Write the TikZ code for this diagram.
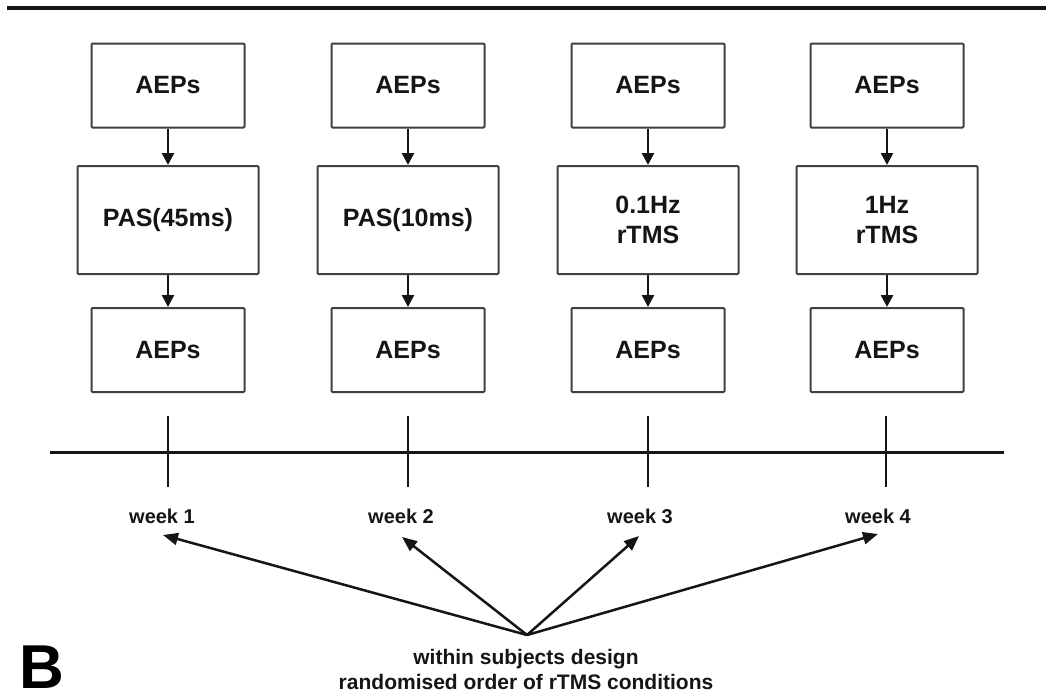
\documentclass[tikz,border=0pt]{standalone}
\usepackage{fontspec}
\setmainfont{Liberation Sans}
\usetikzlibrary{arrows.meta}
\definecolor{boxline}{HTML}{404040}
\definecolor{ink}{HTML}{151515}
\begin{document}
\begin{tikzpicture}[x=1pt,y=-1pt,
  aep/.style={draw=boxline,line width=2pt,rounded corners=1pt,minimum width=153pt,minimum height=84pt,inner sep=0pt,text=ink,font=\fontsize{25}{30}\selectfont\bfseries},
  cond/.style={draw=boxline,line width=2pt,rounded corners=1pt,minimum width=181pt,minimum height=108pt,inner sep=0pt,align=center,text=ink,font=\fontsize{25}{30}\selectfont\bfseries},
  flow/.style={line width=2.5pt,draw=ink,-{Triangle[length=12pt,width=12pt]}},
  pointer/.style={line width=2.5pt,draw=ink,-{Triangle[length=15pt,width=12pt]}},
  weeklbl/.style={anchor=base,inner sep=0pt,text=ink,font=\fontsize{20}{24}\bfseries\selectfont},
  tick/.style={line width=2.5pt,draw=ink}
]
\useasboundingbox (0,0) rectangle (1046,699);
\fill[white] (0,0) rectangle (1046,699);
% top rule
\draw[line width=4pt,ink] (7,8) -- (1046,8);

% columns
\foreach \i/\x/\txt in {1/168/{PAS(45ms)},2/408/{PAS(10ms)},3/648/{0.1Hz\\rTMS},4/887/{1Hz\\rTMS}}{
  \node[aep] (top\i) at (\x,85.5) {AEPs};
  \node[cond] (mid\i) at (\x,220) {\txt};
  \node[aep] (bot\i) at (\x,350) {AEPs};
  \draw[flow] (top\i.south) -- (mid\i.north);
  \draw[flow] (mid\i.south) -- (bot\i.north);
}

% timeline
\coordinate (tlL) at (50,452);
\coordinate (tlR) at (1004,452);
\draw[line width=3pt,ink] (tlL) -- (tlR);
\foreach \i/\x in {1/168,2/408,3/648,4/886}{
  \coordinate (tkT\i) at (\x,416);
  \coordinate (tkB\i) at (\x,487);
  \draw[tick] (tkT\i) -- (tkB\i);
}

% week labels
\node[weeklbl] (w1) at (162,523) {week 1};
\node[weeklbl] (w2) at (401,523) {week 2};
\node[weeklbl] (w3) at (640,523) {week 3};
\node[weeklbl] (w4) at (878,523) {week 4};

% pointer arrows
\coordinate (apex) at (527,635);
\coordinate (t1) at (163,535);
\coordinate (t2) at (402,537);
\coordinate (t3) at (639,536);
\coordinate (t4) at (878,534);
\foreach \i in {1,2,3,4}{\draw[pointer] (apex) -- (t\i);}

% bottom text
\node[anchor=base,inner sep=0pt,align=center,text=ink,font=\fontsize{21}{25}\bfseries\selectfont] (design) at (526,689) {within subjects design\\randomised order of rTMS conditions};

% panel letter
\node[anchor=base west,inner sep=0pt,text=black,font=\fontsize{62}{66}\bfseries\selectfont] (panel) at (19,688) {B};
\end{tikzpicture}
\end{document}
